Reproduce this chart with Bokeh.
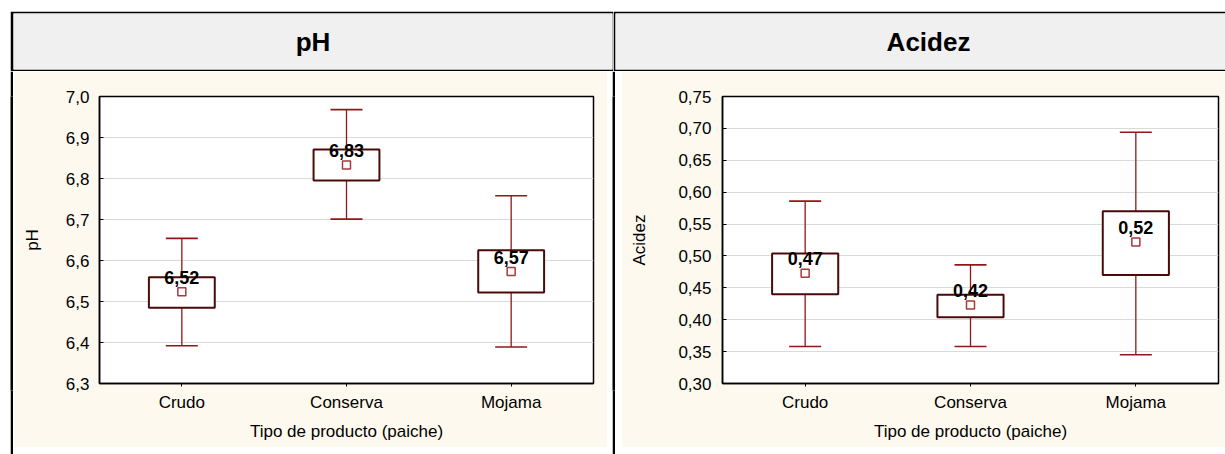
from bokeh.plotting import figure
from bokeh.models import (ColumnDataSource, FactorRange, Range1d, Whisker, TeeHead,
                          CustomJSTickFormatter, FixedTicker, Spacer)
from bokeh.layouts import row, column
from bokeh.embed import file_html
from bokeh.resources import INLINE
from bokeh.core.properties import value

# ---------------- data ----------------
categories = ["Crudo", "Conserva", "Mojama"]

ph_mean = [6.524, 6.833, 6.573]
ph_box_low = [6.485, 6.795, 6.522]
ph_box_high = [6.559, 6.871, 6.625]
ph_whisker_low = [6.392, 6.701, 6.389]
ph_whisker_high = [6.654, 6.968, 6.758]
ph_ticks = [6.3, 6.4, 6.5, 6.6, 6.7, 6.8, 6.9, 7.0]

acidez_mean = [0.473, 0.423, 0.522]
acidez_box_low = [0.440, 0.404, 0.470]
acidez_box_high = [0.504, 0.439, 0.570]
acidez_whisker_low = [0.358, 0.358, 0.345]
acidez_whisker_high = [0.586, 0.486, 0.694]
acidez_ticks = [0.30, 0.35, 0.40, 0.45, 0.50, 0.55, 0.60, 0.65, 0.70, 0.75]

panel_titles = ["pH", "Acidez"]
x_title = "Tipo de producto (paiche)"

# ---------------- style ----------------
FONT = "Liberation Sans"
CREAM = "#FDF9EE"
HEADER = "#F0F0F0"
WHISKER = "#901818"
BOX_LINE = "#4A0A0A"
MEAN_LINE = "#A8383A"
GRID = "#DADADA"


def block(w, h, color):
    f = figure(width=w, height=h, toolbar_location=None, output_backend="svg",
               min_border=0, x_axis_type=None, y_axis_type=None, title=None,
               border_fill_color=color, background_fill_color=color,
               outline_line_color=None)
    return f


def header(text, w, bl, br, x_offset):
    h = figure(width=w, height=60, toolbar_location=None, output_backend="svg",
               x_range=Range1d(0, 1), y_range=Range1d(0, 1), title=None,
               x_axis_type=None, y_axis_type=None,
               min_border_left=bl, min_border_right=br,
               min_border_top=2, min_border_bottom=2,
               border_fill_color="black", background_fill_color=HEADER,
               outline_line_color=None)
    h.xgrid.visible = False
    h.ygrid.visible = False
    h.text(x=[0.5], y=[0.5], text=[text], text_font=value(FONT),
           text_font_size="26px", text_font_style="bold", text_align="center",
           text_baseline="middle", x_offset=x_offset, text_color="black")
    return h


def panel(ylabel, mean, blo, bhi, wlo, whi, ticks, yr, decimals,
          W, Hh, bl, br, bt, bb, ylabel_standoff, tick_standoff):
    p = figure(width=W, height=Hh, x_range=FactorRange(factors=categories),
               y_range=Range1d(*yr), output_backend="svg", toolbar_location=None,
               title=None,
               min_border_left=bl, min_border_right=br,
               min_border_top=bt, min_border_bottom=bb,
               border_fill_color=CREAM, background_fill_color="white",
               outline_line_color="black", outline_line_width=1.5)

    xa = p.xaxis[0]
    ya = p.yaxis[0]
    xa.axis_label = x_title
    ya.axis_label = ylabel
    for ax in (xa, ya):
        ax.axis_label_text_font = FONT
        ax.axis_label_text_font_size = "17px"
        ax.axis_label_text_font_style = "normal"
        ax.axis_label_text_color = "black"
        ax.major_label_text_font = FONT
        ax.major_label_text_font_size = "17px"
        ax.major_label_text_color = "black"
        ax.axis_line_color = "black"
        ax.axis_line_width = 1.5
        ax.major_tick_line_color = "black"
        ax.minor_tick_line_color = None
    xa.major_tick_in = 0
    xa.major_tick_out = 3
    xa.major_label_standoff = 6
    xa.axis_label_standoff = 7
    ya.major_tick_in = 4
    ya.major_tick_out = 0
    ya.major_label_standoff = tick_standoff
    ya.axis_label_standoff = ylabel_standoff
    ya.ticker = FixedTicker(ticks=ticks)
    ya.formatter = CustomJSTickFormatter(
        code=f"return tick.toFixed({decimals}).replace('.', ',');")

    p.xgrid.grid_line_color = None
    p.ygrid.ticker = FixedTicker(ticks=ticks)
    p.ygrid.grid_line_color = GRID
    p.ygrid.grid_line_width = 1

    src = ColumnDataSource(dict(
        x=categories, mean=mean, blo=blo, bhi=bhi, wlo=wlo, whi=whi,
        lab=[f"{m:.2f}".replace(".", ",") for m in mean]))

    p.add_layout(Whisker(source=src, base="x", lower="wlo", upper="whi",
                         dimension="height", line_color=WHISKER, line_width=1.3,
                         lower_head=TeeHead(size=32, line_color=WHISKER, line_width=1.6),
                         upper_head=TeeHead(size=32, line_color=WHISKER, line_width=1.6)))
    p.vbar(x="x", top="bhi", bottom="blo", width=0.4, source=src,
           fill_color="white", line_color=BOX_LINE, line_width=2)
    p.scatter(x="x", y="mean", source=src, marker="square", size=8,
              fill_color="white", line_color=MEAN_LINE, line_width=1.5)
    p.text(x="x", y="mean", text="lab", source=src, text_font=value(FONT),
           text_font_size="18px", text_font_style="bold", text_align="center",
           text_baseline="bottom", y_offset=-8, text_color="black")
    return p


# canvas rows: header 11..71, panels 71..454
h1 = header(panel_titles[0], 603, 3, 1, 0)
h2 = header(panel_titles[1], 612, 2, 0, 8)

c1 = panel("pH", ph_mean, ph_box_low, ph_box_high, ph_whisker_low, ph_whisker_high,
           ph_ticks, (6.3, 7.0), 1,
           W=593, Hh=376, bl=85, br=14, bt=25, bb=64,
           ylabel_standoff=21, tick_standoff=10)
c2 = panel("Acidez", acidez_mean, acidez_box_low, acidez_box_high,
           acidez_whisker_low, acidez_whisker_high, acidez_ticks, (0.30, 0.75), 2,
           W=604, Hh=376, bl=101, br=7, bt=22, bb=64,
           ylabel_standoff=26, tick_standoff=11)

top_row = row(Spacer(width=10, height=60), h1, h2)
bottom_row = row(Spacer(width=10, height=383), block(3, 383, "black"),
                 Spacer(width=1, height=383), c1, Spacer(width=5, height=383),
                 block(3, 383, "black"), Spacer(width=6, height=383), c2)
layout = column(Spacer(width=1225, height=11), top_row, bottom_row)

open("out.html", "w").write(file_html(layout, INLINE))
